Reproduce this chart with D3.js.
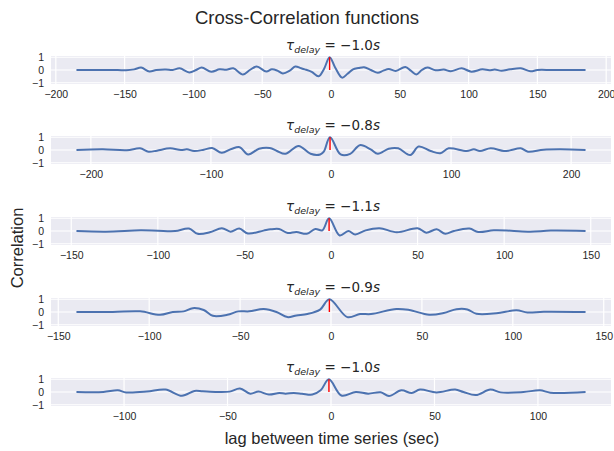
<!DOCTYPE html>
<html>
<head>
<meta charset="utf-8">
<script src="https://cdn.jsdelivr.net/npm/d3@7"></script>
<style>
  body { margin: 0; background: #fff; }
  text { font-family: "Liberation Sans", Arial, sans-serif; fill: #262626; }
  .math { font-family: "DejaVu Sans", sans-serif; }
</style>
</head>
<body>
<svg id="chart"></svg>
<script>
// delays shown in the subplot titles (seconds)
const delays = [-1.0, -0.8, -1.1, -0.9, -1.0];

const xTicks = [
  [-200, -150, -100, -50, 0, 50, 100, 150, 200],
  [-200, -100, 0, 100, 200],
  [-150, -100, -50, 0, 50, 100, 150],
  [-150, -100, -50, 0, 50, 100, 150],
  [-100, -50, 0, 50, 100]
];
const yTicks = [-1, 0, 1];

const lag1 = [-185, -170, -155, -149, -143, -138, -132, -127, -120, -115, -110, -103, -98, -94, -87, -81, -76, -71, -64, -59, -54, -47, -43, -39, -35, -30, -26, -22, -19, -14, -9, -5, -1, 3, 8, 12, 16, 20, 24, 29, 34, 38, 42, 47, 54, 58, 62, 66, 70, 76, 82, 87, 95, 102, 110, 115, 119, 124, 130, 138, 145, 150, 160, 170, 185];
const corr1 = [0, 0, 0, -0.02, 0.05, 0.19, -0.12, 0, 0.03, 0, 0.13, -0.19, 0, 0.19, -0.13, 0.05, 0.02, 0.13, -0.35, 0, 0.27, -0.12, 0.05, -0.05, -0.27, -0.05, 0.27, 0.15, 0.05, -0.15, -0.49, 0.1, 1.0, 0.2, -0.6, -0.3, 0.05, 0.15, 0.22, 0, -0.22, -0.05, 0.08, -0.08, 0.24, -0.05, -0.35, 0, 0.19, -0.02, 0.03, -0.1, 0.13, -0.13, 0.05, -0.02, 0.03, -0.05, 0.05, 0.13, -0.1, 0, 0, 0, 0];

const lag2 = [-212, -190, -170, -159, -152, -145, -134, -125, -120, -114, -106, -99, -91, -83, -76, -69, -60, -51, -45, -38, -27, -17, -9, -6, -0.8, 8, 16, 24, 33, 39, 48, 56, 66, 73, 83, 91, 98, 113, 119, 124, 133, 144, 149, 158, 164, 177, 191, 212];
const corr2 = [0, 0.05, -0.02, 0.13, -0.13, -0.05, 0.13, 0, 0.05, -0.08, 0.02, 0.16, -0.22, 0.08, 0.22, -0.35, 0.1, 0.16, -0.08, -0.3, 0.32, -0.3, -0.35, -0.13, 1.0, -0.35, -0.3, 0.38, 0.05, -0.3, 0.1, 0.13, -0.4, 0.27, -0.08, -0.25, 0.13, -0.08, 0.05, -0.08, 0.13, -0.08, -0.03, 0.13, -0.13, 0.02, 0.05, 0];

const lag3 = [-147, -130, -110, -100, -90, -82, -77, -70, -63, -58, -53, -48, -39, -35, -30, -25, -20, -14, -9, -5, -1.1, 5, 10, 14, 20, 28, 38, 50, 55, 61, 66, 71, 80, 85, 94, 104, 115, 127, 147];
const corr3 = [0, -0.05, 0.05, 0.02, 0, 0.19, -0.22, -0.1, 0.22, -0.05, 0.19, -0.19, 0.03, 0.13, 0.16, -0.16, -0.08, -0.22, 0.16, 0.05, 1.0, -0.35, 0, -0.27, 0.05, 0.22, -0.1, 0.22, -0.13, 0.13, -0.22, 0, 0.19, -0.08, 0.05, 0.02, -0.05, 0.03, 0];

const lag4 = [-140, -120, -105, -94, -87, -81, -76, -70, -65, -57, -51, -45, -37, -30, -24, -19, -13, -6, -0.9, 9, 16, 22, 36, 43, 54, 62, 69, 75, 80, 91, 102, 108, 117, 140];
const corr4 = [0, 0, 0.05, -0.22, 0, 0.05, 0.3, 0.16, -0.3, -0.22, 0.05, 0.05, 0.24, 0, -0.4, -0.27, -0.16, 0.19, 1.0, -0.4, -0.16, -0.16, 0.24, 0.16, -0.22, -0.08, 0.22, 0.2, -0.14, -0.1, 0.13, -0.03, 0.02, 0];

const lag5 = [-123, -110, -103, -99, -89, -80, -72, -66, -62, -55, -49, -44, -39, -35, -30, -25, -22, -18, -14, -9, -5, -1, 5, 12, 18, 24, 28, 34, 39, 43, 51, 60, 64, 70, 77, 82, 93, 101, 106, 123];
const corr5 = [0, 0, 0.13, -0.03, 0.03, 0.19, -0.3, 0.08, 0.05, 0, 0.03, 0.27, -0.13, 0.03, -0.2, -0.08, -0.13, -0.08, -0.13, -0.2, 0.13, 1.0, -0.27, 0, -0.13, -0.02, -0.32, 0.13, -0.08, 0.19, -0.03, 0.19, 0, -0.24, 0.19, -0.03, 0, 0.13, -0.05, 0];

const lags = [lag1, lag2, lag3, lag4, lag5];
const corrs = [corr1, corr2, corr3, corr4, corr5];

const WIDTH = 614;
const HEIGHT = 451;
const PLOT_LEFT = 51;
const PLOT_RIGHT = 611;
const PANEL_TOPS = [56, 136, 217, 298, 378];
const PANEL_HEIGHT = 28;

const svg = d3.select('#chart')
    .attr('width', WIDTH)
    .attr('height', HEIGHT);

svg.append('text')
    .attr('x', 307)
    .attr('y', 24)
    .attr('text-anchor', 'middle')
    .style('font-size', '18.5px')
    .text('Cross-Correlation functions');

svg.append('text')
    .attr('transform', 'translate(23,248) rotate(-90)')
    .attr('text-anchor', 'middle')
    .style('font-size', '16.5px')
    .text('Correlation');

svg.append('text')
    .attr('x', 332)
    .attr('y', 444)
    .attr('text-anchor', 'middle')
    .style('font-size', '16.5px')
    .text('lag between time series (sec)');

const fmt = (d) => String(d).replace('-', '\u2212');

function drawPanel(i) {
  const top = PANEL_TOPS[i];
  const data = lags[i].map((x, k) => ({x: x, y: corrs[i][k]}));
  const ext = d3.extent(lags[i]);
  const pad = (ext[1] - ext[0]) * 0.05;

  const xScale = d3.scaleLinear()
      .domain([ext[0] - pad, ext[1] + pad])
      .range([PLOT_LEFT, PLOT_RIGHT]);
  const yScale = d3.scaleLinear()
      .domain([-1.1, 1.1])
      .range([top + PANEL_HEIGHT, top]);

  const g = svg.append('g').attr('class', 'panel');

  g.append('rect')
      .attr('x', PLOT_LEFT)
      .attr('y', top)
      .attr('width', PLOT_RIGHT - PLOT_LEFT)
      .attr('height', PANEL_HEIGHT)
      .attr('fill', '#EAEAF2');

  // grid
  g.selectAll('.grid-x')
      .data(xTicks[i])
      .enter()
      .append('line')
      .attr('stroke', '#fff')
      .attr('stroke-width', 1.2)
      .attr('x1', (d) => xScale(d))
      .attr('x2', (d) => xScale(d))
      .attr('y1', top)
      .attr('y2', top + PANEL_HEIGHT);

  g.selectAll('.grid-y')
      .data(yTicks)
      .enter()
      .append('line')
      .attr('stroke', '#fff')
      .attr('stroke-width', 1.2)
      .attr('x1', PLOT_LEFT)
      .attr('x2', PLOT_RIGHT)
      .attr('y1', (d) => yScale(d))
      .attr('y2', (d) => yScale(d));

  const xAxis = g.append('g')
      .attr('transform', 'translate(0,' + (top + PANEL_HEIGHT) + ')')
      .call(d3.axisBottom(xScale).tickValues(xTicks[i]).tickSize(0).tickPadding(7).tickFormat(fmt));
  const yAxis = g.append('g')
      .attr('transform', 'translate(' + PLOT_LEFT + ',0)')
      .call(d3.axisLeft(yScale).tickValues(yTicks).tickSize(0).tickPadding(7).tickFormat(fmt));
  [xAxis, yAxis].forEach((ax) => {
    ax.select('.domain').remove();
    ax.selectAll('text')
        .style('font-family', '"Liberation Sans", Arial, sans-serif')
        .style('font-size', '10.5px')
        .attr('fill', '#262626');
  });

  const line = d3.line()
      .x((d) => xScale(d.x))
      .y((d) => yScale(d.y))
      .curve(d3.curveCatmullRom.alpha(0.5));

  g.append('path')
      .datum(data)
      .attr('fill', 'none')
      .attr('stroke', '#4C72B0')
      .attr('stroke-width', 2)
      .attr('stroke-linejoin', 'round')
      .attr('d', line);

  g.append('line')
      .attr('x1', xScale(delays[i]))
      .attr('x2', xScale(delays[i]))
      .attr('y1', yScale(0))
      .attr('y2', yScale(1))
      .attr('stroke', 'red')
      .attr('stroke-width', 1.4);

  // title: tau_delay = -x.xs
  const title = g.append('text')
      .attr('class', 'math')
      .attr('x', 333)
      .attr('y', top - 6)
      .attr('text-anchor', 'middle')
      .style('font-size', '13.5px');
  title.append('tspan').style('font-style', 'italic').text('\u03C4');
  title.append('tspan').style('font-style', 'italic').style('font-size', '9.5px')
      .attr('dy', 3).text('delay');
  title.append('tspan').attr('dy', -3).text(' = \u2212' + Math.abs(delays[i]).toFixed(1));
  title.append('tspan').style('font-style', 'italic').text('s');
}

for (let i = 0; i < lags.length; i++) {
  drawPanel(i);
}
</script>
</body>
</html>
